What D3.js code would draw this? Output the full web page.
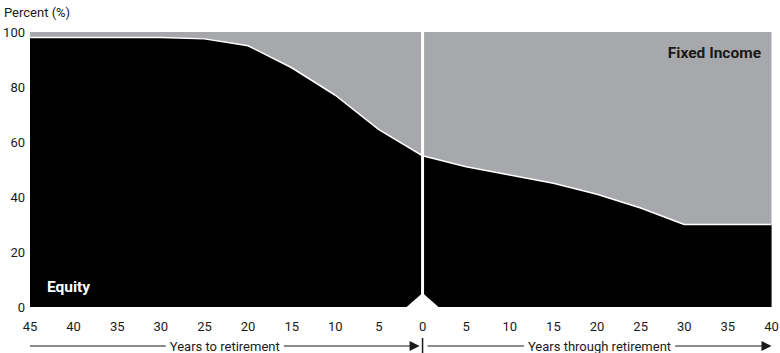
<!DOCTYPE html>
<html>
<head>
<meta charset="utf-8">
<script src="https://cdn.jsdelivr.net/npm/d3@7"></script>
<style>
  body { margin: 0; background: #fff; }
  svg { display: block; font-family: Roboto, "Noto Sans", sans-serif; }
</style>
</head>
<body>
<svg id="chart" width="780" height="353"></svg>
<script>
// years before retirement (negative on the axis) and equity share
const yearsTo = [45, 40, 35, 30, 25, 20, 15, 10, 5, 0];
const equityTo = [98, 98, 98, 98, 97.5, 95, 87, 77, 64.5, 55];
// years after retirement
const yearsThrough = [0, 5, 10, 15, 20, 25, 30, 35, 40];
const equityThrough = [55, 51, 48, 45, 41, 36, 30, 30, 30];

const xTicks = [-45, -40, -35, -30, -25, -20, -15, -10, -5, 0, 5, 10, 15, 20, 25, 30, 35, 40];
const yTicks = [0, 20, 40, 60, 80, 100];

const svg = d3.select('#chart');

const x = d3.scaleLinear().domain([-45, 40]).range([30, 771.5]);
const y = d3.scaleLinear().domain([0, 100]).range([307, 32]);

const gray = '#a7a8ac';
const ink = '#1a1a1a';

// fixed income background
svg.append('rect')
  .attr('x', x(-45)).attr('y', y(100))
  .attr('width', x(40) - x(-45)).attr('height', y(0) - y(100))
  .attr('fill', gray);

const before = yearsTo.map((d, i) => ({ yr: -d, v: equityTo[i] }));
const after = yearsThrough.map((d, i) => ({ yr: d, v: equityThrough[i] }));

const area = d3.area()
  .x(d => x(d.yr)).y0(y(0)).y1(d => y(d.v));
const line = d3.line()
  .x(d => x(d.yr)).y(d => y(d.v));

[before, after].forEach(seg => {
  svg.append('path').datum(seg).attr('d', area).attr('fill', '#000');
  svg.append('path').datum(seg).attr('d', line)
    .attr('fill', 'none').attr('stroke', '#fff').attr('stroke-width', 1.5)
    .attr('stroke-linejoin', 'round');
});

// retirement divider and notch
svg.append('line')
  .attr('x1', x(0)).attr('x2', x(0))
  .attr('y1', y(100)).attr('y2', y(4))
  .attr('stroke', '#fff').attr('stroke-width', 3);
svg.append('path')
  .attr('d', `M${x(0) - 16},${y(0)}L${x(0)},${y(0) - 14}L${x(0) + 16},${y(0)}Z`)
  .attr('fill', '#fff');

// y tick labels
svg.append('g').selectAll('text')
  .data(yTicks).join('text')
  .attr('x', 25).attr('y', d => y(d) + 4.5)
  .attr('text-anchor', 'end')
  .attr('font-size', 13).attr('fill', ink)
  .text(d => d);

svg.append('text')
  .attr('x', 4).attr('y', 17)
  .attr('font-size', 13).attr('fill', ink)
  .text('Percent (%)');

// x tick labels
svg.append('g').selectAll('text')
  .data(xTicks).join('text')
  .attr('x', d => x(d)).attr('y', 331)
  .attr('text-anchor', 'middle')
  .attr('font-size', 13).attr('fill', ink)
  .text(d => Math.abs(d));

// series labels
svg.append('text')
  .attr('x', 47).attr('y', 292)
  .attr('font-size', 15.5).attr('font-weight', 'bold').attr('fill', '#fff')
  .text('Equity');
svg.append('text')
  .attr('x', 761).attr('y', 58)
  .attr('text-anchor', 'end')
  .attr('font-size', 15.5).attr('font-weight', 'bold').attr('fill', ink)
  .text('Fixed Income');

// bottom arrows
const ay = 346;
function arrowRow(x0, x1, label) {
  const g = svg.append('g');
  const t = g.append('text')
    .attr('x', (x0 + x1) / 2).attr('y', ay + 4.5)
    .attr('text-anchor', 'middle')
    .attr('font-size', 13).attr('fill', ink)
    .text(label);
  const w = t.node().getComputedTextLength();
  const c = (x0 + x1) / 2;
  g.append('line').attr('x1', x0).attr('x2', c - w / 2 - 4)
    .attr('y1', ay).attr('y2', ay).attr('stroke', ink).attr('stroke-width', 1.2);
  g.append('line').attr('x1', c + w / 2 + 4).attr('x2', x1 - 8)
    .attr('y1', ay).attr('y2', ay).attr('stroke', ink).attr('stroke-width', 1.2);
  g.append('path')
    .attr('d', `M${x1 - 10},${ay - 5}L${x1},${ay}L${x1 - 10},${ay + 5}Z`)
    .attr('fill', ink);
}
arrowRow(x(-45), x(0) - 3, 'Years to retirement');
arrowRow(x(0) + 5, x(40), 'Years through retirement');

svg.append('line')
  .attr('x1', x(0)).attr('x2', x(0))
  .attr('y1', 338).attr('y2', 353)
  .attr('stroke', ink).attr('stroke-width', 1.5);
</script>
</body>
</html>
